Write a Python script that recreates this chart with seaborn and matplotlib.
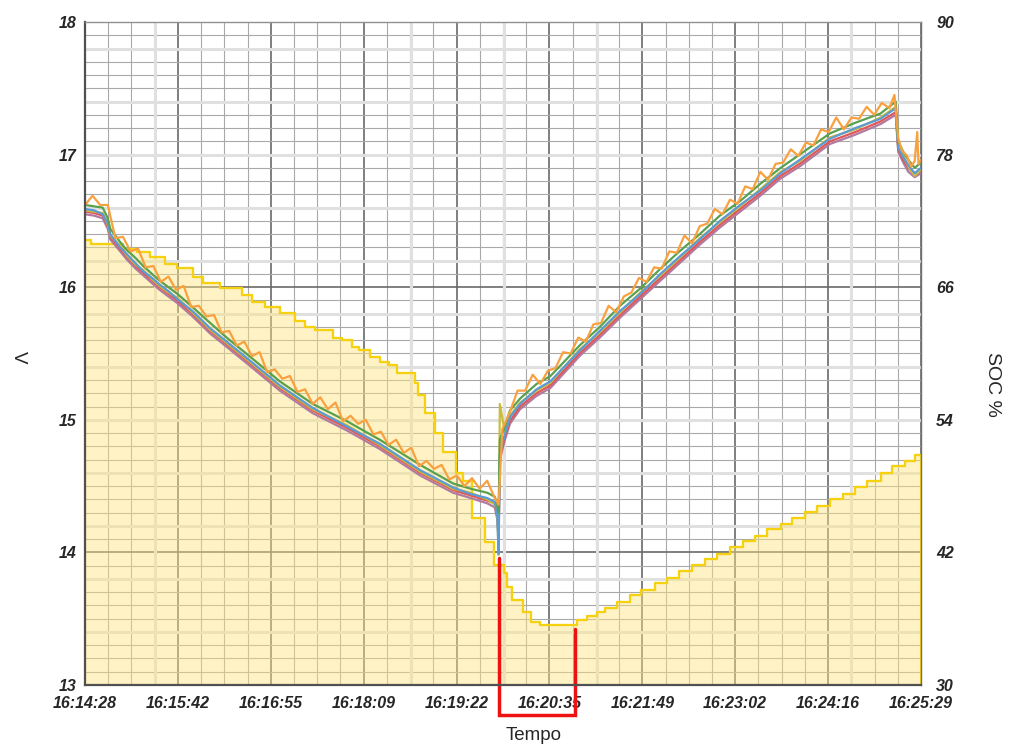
import numpy as np
import pandas as pd
import matplotlib.pyplot as plt
import seaborn as sns
from matplotlib.ticker import MultipleLocator

sns.set_style('white')
plt.rcParams['font.family'] = ['Liberation Sans', 'DejaVu Sans']

# time axis: seconds after 16:14:28
time_labels = ['16:14:28', '16:15:42', '16:16:55', '16:18:09', '16:19:22',
               '16:20:35', '16:21:49', '16:23:02', '16:24:16', '16:25:29']
t_end = 661

# cell voltages (V)
t_cells = [0, 7, 14, 18, 20, 27, 33, 40, 46, 53, 59, 66, 73, 85, 99, 112, 130, 154, 180, 207,
           233, 265, 291, 305, 318, 324, 326, 327, 328, 332, 336, 344, 357, 368, 391, 407, 423,
           439, 455, 470, 486, 502, 518, 534, 550, 565, 589, 609, 629, 641, 643, 647, 651, 656, 661]
v_blue = [16.59, 16.58, 16.55, 16.48, 16.40, 16.31, 16.25, 16.18, 16.12, 16.07, 16.02, 15.97,
          15.91, 15.82, 15.69, 15.59, 15.45, 15.26, 15.09, 14.95, 14.82, 14.62, 14.49, 14.44,
          14.41, 14.38, 14.28, 13.99, 14.74, 14.89, 15.02, 15.12, 15.23, 15.29, 15.52, 15.67,
          15.82, 15.95, 16.10, 16.23, 16.36, 16.50, 16.62, 16.73, 16.86, 16.96, 17.12, 17.20,
          17.27, 17.35, 17.05, 16.98, 16.92, 16.86, 16.90]
v_green = [16.62, 16.61, 16.60, 16.52, 16.44, 16.35, 16.28, 16.22, 16.16, 16.10, 16.05, 16.00,
           15.95, 15.85, 15.73, 15.62, 15.48, 15.29, 15.12, 14.99, 14.85, 14.66, 14.52, 14.48,
           14.45, 14.42, 14.36, 14.30, 14.85, 14.95, 15.07, 15.16, 15.27, 15.33, 15.56, 15.70,
           15.86, 15.99, 16.14, 16.27, 16.40, 16.54, 16.65, 16.78, 16.90, 17.00, 17.16, 17.24,
           17.31, 17.40, 17.10, 17.02, 16.96, 16.90, 16.94]
v_red = [16.57, 16.56, 16.54, 16.46, 16.38, 16.30, 16.23, 16.16, 16.11, 16.05, 16.00, 15.95,
         15.90, 15.80, 15.67, 15.57, 15.43, 15.24, 15.07, 14.94, 14.80, 14.60, 14.47, 14.43,
         14.39, 14.37, 14.27, 14.10, 14.72, 14.87, 14.99, 15.10, 15.20, 15.26, 15.50, 15.64,
         15.79, 15.93, 16.07, 16.20, 16.34, 16.47, 16.59, 16.71, 16.84, 16.93, 17.10, 17.17,
         17.25, 17.32, 17.04, 16.96, 16.90, 16.85, 16.88]
v_purple = [16.55, 16.54, 16.52, 16.44, 16.36, 16.28, 16.21, 16.14, 16.09, 16.03, 15.98, 15.93,
            15.88, 15.78, 15.65, 15.55, 15.41, 15.22, 15.05, 14.92, 14.78, 14.58, 14.45, 14.41,
            14.37, 14.34, 14.25, 14.12, 14.70, 14.85, 14.97, 15.08, 15.18, 15.24, 15.48, 15.62,
            15.77, 15.91, 16.05, 16.18, 16.32, 16.45, 16.57, 16.69, 16.82, 16.91, 17.08, 17.15,
            17.23, 17.30, 17.02, 16.94, 16.87, 16.83, 16.86]
v_olive = [16.58, 16.57, 16.56, 16.47, 16.39, 16.32, 16.24, 16.17, 16.13, 16.06, 16.01, 15.96,
           15.92, 15.81, 15.68, 15.58, 15.44, 15.25, 15.08, 14.96, 14.81, 14.61, 14.48, 14.45,
           14.40, 14.36, 14.30, 13.98, 15.12, 14.90, 15.03, 15.13, 15.22, 15.28, 15.53, 15.66,
           15.81, 15.96, 16.09, 16.22, 16.37, 16.49, 16.61, 16.74, 16.87, 16.95, 17.13, 17.19,
           17.28, 17.36, 17.06, 16.99, 16.91, 16.84, 16.89]

# the noisy top cell, sampled more densely
t_orange = (list(range(0, 325, 6)) + [327, 330] + list(range(336, 637, 6))
            + [640, 643, 646, 650, 653, 656, 658, 659, 661])
v_orange = [16.62, 16.69, 16.62, 16.62, 16.37, 16.38, 16.27, 16.29, 16.15, 16.16,
            16.04, 16.08, 15.98, 16.01, 15.85, 15.86, 15.78, 15.79, 15.66, 15.67,
            15.56, 15.59, 15.48, 15.51, 15.36, 15.38, 15.31, 15.33, 15.21, 15.23,
            15.12, 15.17, 15.08, 15.13, 14.99, 15.03, 14.97, 15.00, 14.89, 14.91,
            14.81, 14.85, 14.75, 14.79, 14.65, 14.69, 14.63, 14.66, 14.55, 14.58,
            14.50, 14.56, 14.48, 14.54, 14.41,
            14.36, 14.93,
            15.06, 15.22, 15.22, 15.34, 15.27, 15.37, 15.39, 15.51, 15.50, 15.62,
            15.59, 15.72, 15.73, 15.86, 15.81, 15.93, 15.96, 16.07, 16.04, 16.15,
            16.14, 16.27, 16.26, 16.39, 16.33, 16.46, 16.48, 16.59, 16.55, 16.66,
            16.63, 16.76, 16.74, 16.87, 16.81, 16.93, 16.94, 17.04, 16.99, 17.09,
            17.07, 17.19, 17.17, 17.28, 17.19, 17.28, 17.27, 17.36, 17.30, 17.39,
            17.35,
            17.45, 17.12, 17.03, 16.99, 16.91, 16.95, 17.17, 16.93, 16.96]

# state of charge (%), stepped
soc_t = [0, 5, 30, 41, 51, 63, 73, 85, 93, 107, 124, 132, 142, 154, 166, 174, 182, 196, 203,
         211, 217, 225, 233, 240, 247, 261, 263, 269, 277, 283, 293, 299, 306, 316, 323, 331,
         334, 338, 346, 353, 360, 389, 397, 405, 411, 421, 431, 440, 451, 460, 470, 480, 490,
         500, 510, 520, 530, 539, 550, 559, 569, 579, 589, 599, 609, 618, 629, 638, 648, 656, 661]
soc_pct = [70.3, 69.9, 69.5, 69.2, 68.7, 68.1, 67.7, 66.9, 66.4, 65.9, 65.3, 64.7, 64.2, 63.7,
           62.9, 62.4, 62.1, 61.4, 61.2, 60.6, 60.3, 59.7, 59.2, 59.0, 58.2, 57.3, 56.2, 54.6,
           52.8, 51.1, 49.2, 48.5, 45.1, 42.9, 40.9, 40.1, 38.9, 37.7, 36.6, 35.7, 35.4, 35.9,
           36.2, 36.6, 37.0, 37.5, 38.1, 38.6, 39.2, 39.7, 40.3, 40.9, 41.4, 41.9, 42.5, 43.0,
           43.5, 44.1, 44.6, 45.1, 45.7, 46.2, 46.8, 47.3, 47.9, 48.5, 49.2, 49.8, 50.3, 50.8, 50.8]

# extra light grid lines seen in the chart
light_t = [55, 258, 331, 405, 606]
light_soc = [34.8, 39.6, 44.4, 49.2, 54.0, 58.8, 63.6, 68.4, 73.2, 78.0, 82.8, 87.6]

# red bracket marking the low-SOC window
bracket_t = [327.5, 327.5, 387.2, 387.2]
bracket_v = [13.96, 12.77, 12.77, 13.42]

cell_colors = {'purple': '#b07aa1', 'red': '#e15759', 'olive': '#c9bd3c',
               'blue': '#5b9bd5', 'green': '#59a14f', 'orange': '#f9a03f'}

frames = []
for name, vals in [('purple', v_purple), ('red', v_red), ('olive', v_olive),
                   ('blue', v_blue), ('green', v_green)]:
    frames.append(pd.DataFrame({'t': t_cells, 'V': vals, 'cell': name}))
frames.append(pd.DataFrame({'t': t_orange, 'V': v_orange, 'cell': 'orange'}))
volts = pd.concat(frames, ignore_index=True)
soc = pd.DataFrame({'t': soc_t, 'soc': soc_pct})

fig = plt.figure(figsize=(10.3, 7.51), dpi=100)
ax = fig.add_axes([85 / 1030, 66 / 751, 836 / 1030, 663 / 751])
ax2 = ax.twinx()
ax.set_zorder(ax2.get_zorder() + 1)
ax.patch.set_visible(False)

ax.set_xlim(0, t_end)
ax.set_ylim(13, 18)
ax.set_xticks(np.linspace(0, t_end, 10))
ax.set_xticks(np.linspace(0, t_end, 37), minor=True)

# SOC layer (bottom) carries the grid
ax2.xaxis.set_visible(True)
ax2.tick_params(axis='x', which='both', labelbottom=False, labeltop=False, length=0)
ax2.set_ylim(30, 90)
ax2.set_yticks([30, 42, 54, 66, 78, 90])
ax2.yaxis.set_minor_locator(MultipleLocator(1.2))
ax2.set_axisbelow(True)
ax2.grid(True, which='major', color='#6a6a6a', lw=1.2)
ax2.grid(True, which='minor', color='#a9a9a9', lw=0.8)
for v in light_soc:
    ax2.axhline(v, color='#e0e0e0', lw=2.2, zorder=0.6)
for t in light_t:
    ax2.axvline(t, color='#e0e0e0', lw=2.2, zorder=0.6)

ax2.fill_between(soc['t'], soc['soc'], 30, step='post', facecolor=(1.0, 0.9, 0.5, 0.45),
                 edgecolor='#f5d10f', linewidth=1.5, zorder=1)
sns.lineplot(data=soc, x='t', y='soc', drawstyle='steps-post', estimator=None,
             color='#f5d10f', lw=1.6, ax=ax2)

# voltage layer (top)
sns.lineplot(data=volts, x='t', y='V', hue='cell', palette=cell_colors,
             hue_order=list(cell_colors), estimator=None, sort=False, legend=False,
             lw=1.6, ax=ax)

ax.plot(bracket_t, bracket_v, color='#ee1111', lw=2.5, clip_on=False, zorder=2.2,
        solid_joinstyle='miter')

ax.set_xlim(0, t_end)
ax.set_ylim(13, 18)
ax.set_xticklabels(time_labels, fontsize=11.5, fontweight='bold', fontstyle='italic')
ax.set_yticks(range(13, 19))
ax.set_yticklabels([str(v) for v in range(13, 19)], fontsize=11.5, fontweight='bold',
                   fontstyle='italic')
ax2.set_yticklabels(['30', '42', '54', '66', '78', '90'], fontsize=11.5, fontweight='bold',
                    fontstyle='italic')
ax.tick_params(which='both', length=0)
ax.tick_params(axis='x', pad=8)
ax.tick_params(axis='y', pad=6)
ax2.tick_params(axis='y', which='both', length=0, pad=11)
ax.set_xlabel('')
ax.set_ylabel('')
ax2.set_xlabel('')
ax2.set_ylabel('')

for side in ax2.spines:
    ax2.spines[side].set_visible(False)
ax.spines['left'].set(color='#505050', lw=1.6)
ax.spines['bottom'].set(color='#505050', lw=1.6)
ax.spines['top'].set(color='#909090', lw=1.0)
ax.spines['right'].set(color='#707070', lw=1.0)

fig.text(534 / 1030, 1 - 736 / 751, 'Tempo', ha='center', va='center', fontsize=13.5)
fig.text(18 / 1030, 1 - 357 / 751, 'V', ha='center', va='center', rotation=-90, fontsize=13.5)
fig.text(993 / 1030, 1 - 384 / 751, 'SOC %', ha='center', va='center', rotation=-90,
         fontsize=14)

fig.savefig('out.png', dpi=100)
